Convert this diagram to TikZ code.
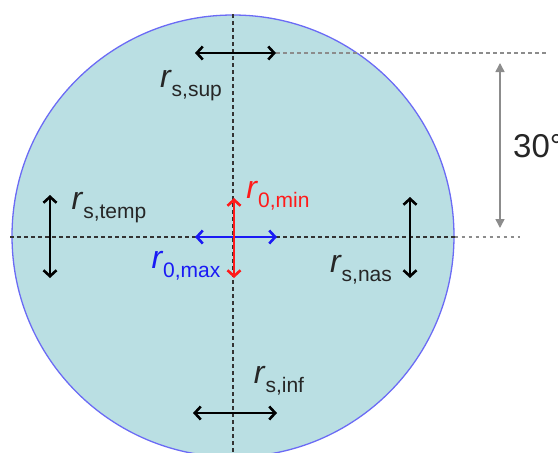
\documentclass[tikz,border=0pt]{standalone}
\usepackage{fontspec}
\setmainfont{Liberation Sans}
\usepackage{xcolor}
\definecolor{eyeFill}{HTML}{BADFE3}
\definecolor{eyeEdge}{HTML}{6B6BF5}
\definecolor{minRed}{HTML}{FF1A1A}
\definecolor{maxBlue}{HTML}{1A1AF5}
\definecolor{guideGray}{HTML}{8C8C8C}
\usetikzlibrary{positioning,arrows.meta,calc}
\newcommand{\rlab}[1]{{\fontsize{32}{32}\selectfont\itshape r}\kern1pt\raisebox{-9pt}{\fontsize{21}{21}\selectfont #1}}

\begin{document}
\begin{tikzpicture}[x=1pt, y=-1pt,
  guide/.style={dash pattern=on 3.5pt off 3.5pt, line width=1.3pt},
  radarrow/.style={{Straight Barb[length=6pt,width=13pt]}-{Straight Barb[length=6pt,width=13pt]}, line width=2.6pt},
  lab/.style={inner sep=0pt, text=black!85}]
\useasboundingbox (0,0) rectangle (558,453);
\node[circle, draw=eyeEdge, line width=1.3pt, fill=eyeFill, minimum size=442pt, inner sep=0pt] (eye) at (233,236) {};
% guide lines
\coordinate (hL) at (10,237);
\coordinate (hR) at (520,237);
\coordinate (vT) at (233,14);
\coordinate (vB) at (233,458);
\coordinate (tL) at (276,53);
\coordinate (tR) at (546,53);
\draw[guide, black!80] (hL) -- (eye.east |- hL);
\draw[guide, guideGray] (eye.east |- hL) -- (hR);
\draw[guide, black!80] (vT) -- (vB);
\draw[guide, guideGray] (tL) -- (tR);
% 30 degree span
\coordinate (degT) at (500,63);
\coordinate (degB) at (500,228);
\draw[{Triangle[length=9pt,width=9pt]}-{Triangle[length=9pt,width=9pt]}, guideGray, line width=1.5pt] (degT) -- (degB);
\node[lab, anchor=west, font=\fontsize{33}{33}\selectfont] (deg) at (513,146) {30°};
% superior / inferior
\coordinate (supL) at (195,53);
\coordinate (supR) at (276,53);
\draw[radarrow] (supL) -- (supR);
\node[lab] (sup) at (191,86) {\rlab{s,sup}};
\coordinate (infL) at (193,413);
\coordinate (infR) at (277,413);
\draw[radarrow] (infL) -- (infR);
\node[lab] (inf) at (279,381) {\rlab{s,inf}};
% temporal / nasal
\coordinate (tmpT) at (50,195);
\coordinate (tmpB) at (50,278);
\draw[radarrow] (tmpT) -- (tmpB);
\node[lab] (tmp) at (109,208) {\rlab{s,temp}};
\coordinate (nasT) at (410,197);
\coordinate (nasB) at (410,278);
\draw[radarrow] (nasT) -- (nasB);
\node[lab] (nas) at (361,270) {\rlab{s,nas}};
% central radii
\coordinate (maxL) at (195,237);
\coordinate (maxR) at (277,237);
\draw[radarrow, maxBlue] (maxL) -- (maxR);
\node[lab, text=maxBlue] (rmax) at (186,266) {\rlab{0,max}};
\coordinate (minT) at (234,198);
\coordinate (minB) at (234,278);
\draw[radarrow, minRed] (minT) -- (minB);
\node[lab, text=minRed] (rmin) at (278,196) {\rlab{0,min}};
\end{tikzpicture}
\end{document}
